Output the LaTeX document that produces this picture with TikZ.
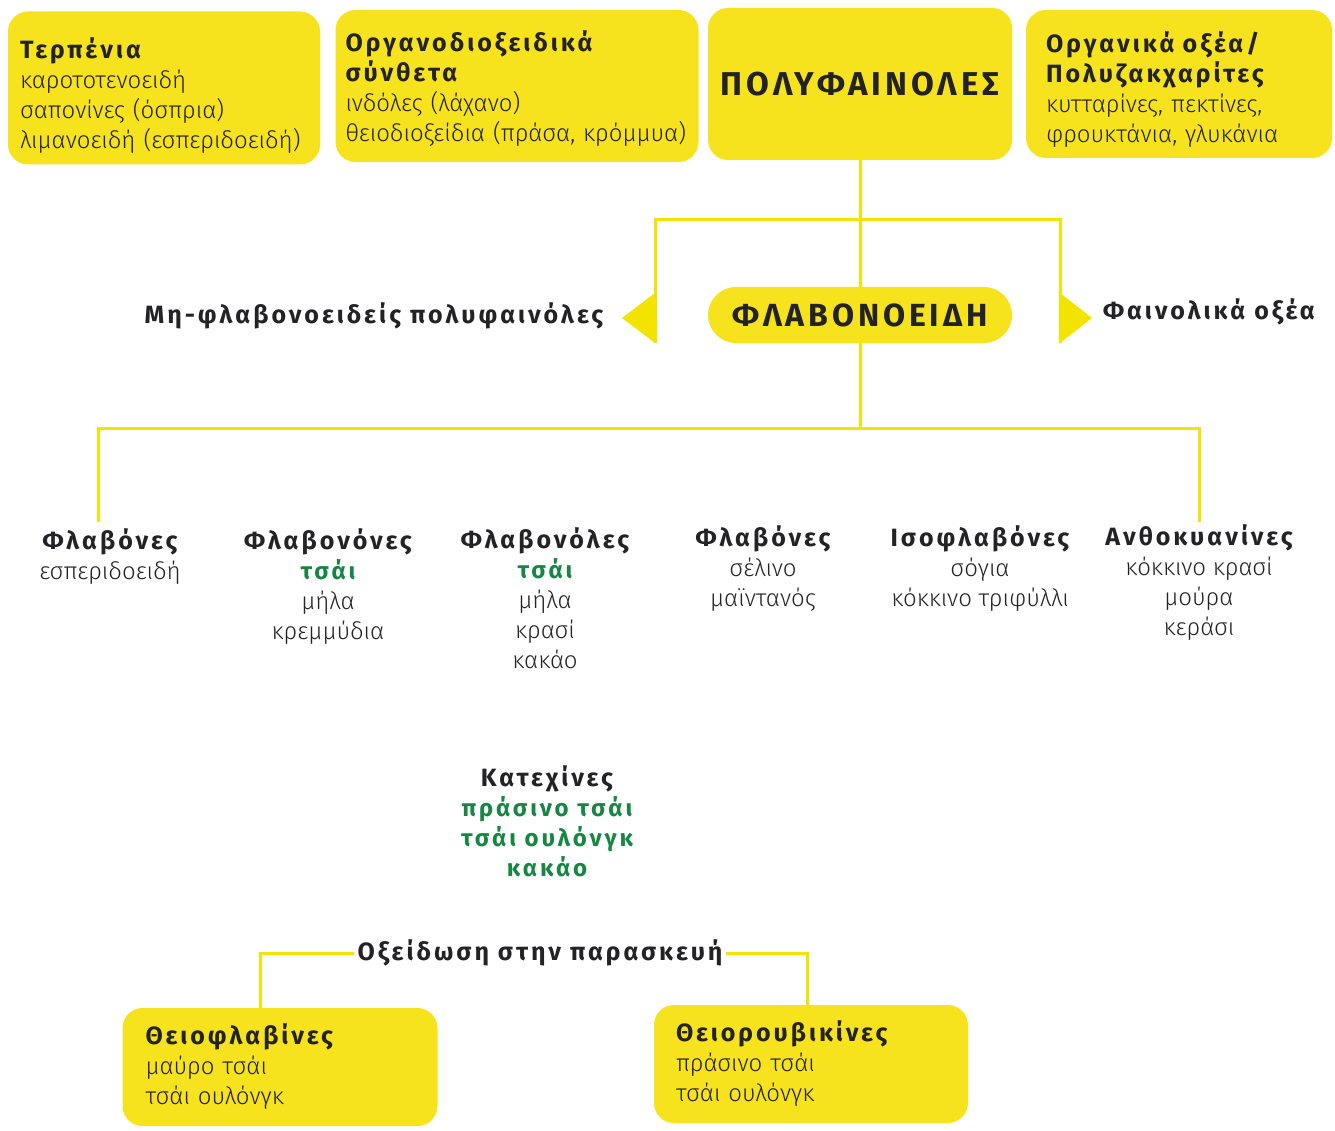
\documentclass[tikz,border=0pt]{standalone}
\usepackage{fontspec}
\setmainfont{Fira Sans Light}[BoldFont={Fira Sans Bold}, BoldFeatures={LetterSpace=12}]
\usetikzlibrary{arrows,positioning}

\definecolor{polyyellow}{RGB}{247,226,30}
\definecolor{lineyellow}{RGB}{242,228,0}
\definecolor{teagreen}{RGB}{22,134,66}
\definecolor{inkgray}{RGB}{35,35,38}

\newcommand{\hd}[1]{{\bfseries\fontsize{25}{30}\selectfont #1}}
\newcommand{\gr}[1]{{\bfseries\fontsize{24}{30}\selectfont\color{teagreen}#1}}
\newcommand{\topgap}[1][36pt]{\rule{0pt}{#1}}

\tikzset{
	box/.style={fill=polyyellow, rounded corners=20pt, align=left, inner xsep=12pt, inner ysep=0pt},
	link/.style={draw=lineyellow, line width=3pt},
	col/.style={align=center, inner sep=0pt, anchor=north},
	every node/.style={text=inkgray, font=\fontsize{24}{30}\selectfont},
}

\begin{document}
\begin{tikzpicture}[x=1pt, y=-1pt]
				\useasboundingbox (0,0) rectangle (1335,1131);
				
				\draw (164,88) node[box, minimum width=312pt, minimum height=153pt, text width=288pt] (terp) {\topgap\hd{Τερπένια}\\καροτοτενοειδή\\σαπονίνες (όσπρια)\\λιμανοειδή (εσπεριδοειδή)};
				\draw (517,86) node[box, inner xsep=10pt, minimum width=359pt, minimum height=152pt, text width=343pt] (organo) {\topgap[26pt]\hd{Οργανοδιοξειδικά}\\\hd{σύνθετα}\\ινδόλες (λάχανο)\\θειοδιοξείδια (πράσα, κρόμμυα)};
				\draw (860,84) node[box, align=center, minimum width=304pt, minimum height=152pt] (poly) {\bfseries\fontsize{33}{40}\selectfont ΠΟΛΥΦΑΙΝΟΛΕΣ};
				\draw (1179,84) node[box, inner xsep=20pt, minimum width=306pt, minimum height=148pt, text width=266pt] (orgac) {\topgap[32pt]\hd{Οργανικά οξέα/}\\\hd{Πολυζακχαρίτες}\\κυτταρίνες, πεκτίνες,\\φρουκτάνια, γλυκάνια};
				
				\draw (860,315) node[box, rounded corners=28pt, align=center, minimum width=304pt, minimum height=56pt] (fl) {\bfseries\fontsize{32}{36}\selectfont ΦΛΑΒΟΝΟΕΙΔΗ};
				\draw (374,316) node (nonfl) {\hd{Μη-φλαβονοειδείς πολυφαινόλες}};
				\draw (1209,312) node (phac) {\hd{Φαινολικά οξέα}};
				
				\coordinate (j1) at (860,220);
				\coordinate (j2) at (860,428);
				\coordinate (tl) at (655,343);
				\coordinate (tr) at (1060,343);
				
				\draw[link] (poly.south) -- (fl.north);
				\draw[link] (tl) |- (j1) -| (tr);
				\fill[lineyellow] (tl) -- ++(0,-50) -- ++(-33,25) -- cycle;
				\fill[lineyellow] (tr) -- ++(0,-50) -- ++(32,25) -- cycle;
				
				\draw (110,528) node[col] (fla) {\hd{Φλαβόνες}\\εσπεριδοειδή};
				\draw (328,528) node[col] (flan) {\hd{Φλαβονόνες}\\\gr{τσάι}\\μήλα\\κρεμμύδια};
				\draw (545,527) node[col] (flol) {\hd{Φλαβονόλες}\\\gr{τσάι}\\μήλα\\κρασί\\κακάο};
				\draw (763,525) node[col] (flb) {\hd{Φλαβόνες}\\σέλινο\\μαϊντανός};
				\draw (980,525) node[col] (iso) {\hd{Ισοφλαβόνες}\\σόγια\\κόκκινο τριφύλλι};
				\draw (1199,524) node[col] (anth) {\hd{Ανθοκυανίνες}\\κόκκινο κρασί\\μούρα\\κεράσι};
				
				\draw[link] (fl.south) -- (j2);
				\draw[link] ([xshift=-12pt,yshift=6pt]fla.north) |- (j2) -| ([yshift=2pt]anth.north);
				
				\draw (547,765) node[col] (cat) {\hd{Κατεχίνες}\\\gr{πράσινο τσάι}\\\gr{τσάι ουλόνγκ}\\\gr{κακάο}};
				
				\draw (540,953) node (ox) {\hd{Οξείδωση στην παρασκευή}};
				\draw (280,1067) node[box, inner xsep=23pt, minimum width=315pt, minimum height=118pt, text width=269pt] (thf) {\hd{Θειοφλαβίνες}\\μαύρο τσάι\\τσάι ουλόνγκ};
				\draw (811,1064) node[box, inner xsep=22pt, minimum width=314pt, minimum height=118pt, text width=270pt] (thr) {\hd{Θειορουβικίνες}\\πράσινο τσάι\\τσάι ουλόνγκ};
				
				\draw[link] (ox.west) -| ([xshift=-20pt]thf.north);
				\draw[link] (ox.east) -| ([xshift=-4pt]thr.north);
			\end{tikzpicture}
\end{document}
